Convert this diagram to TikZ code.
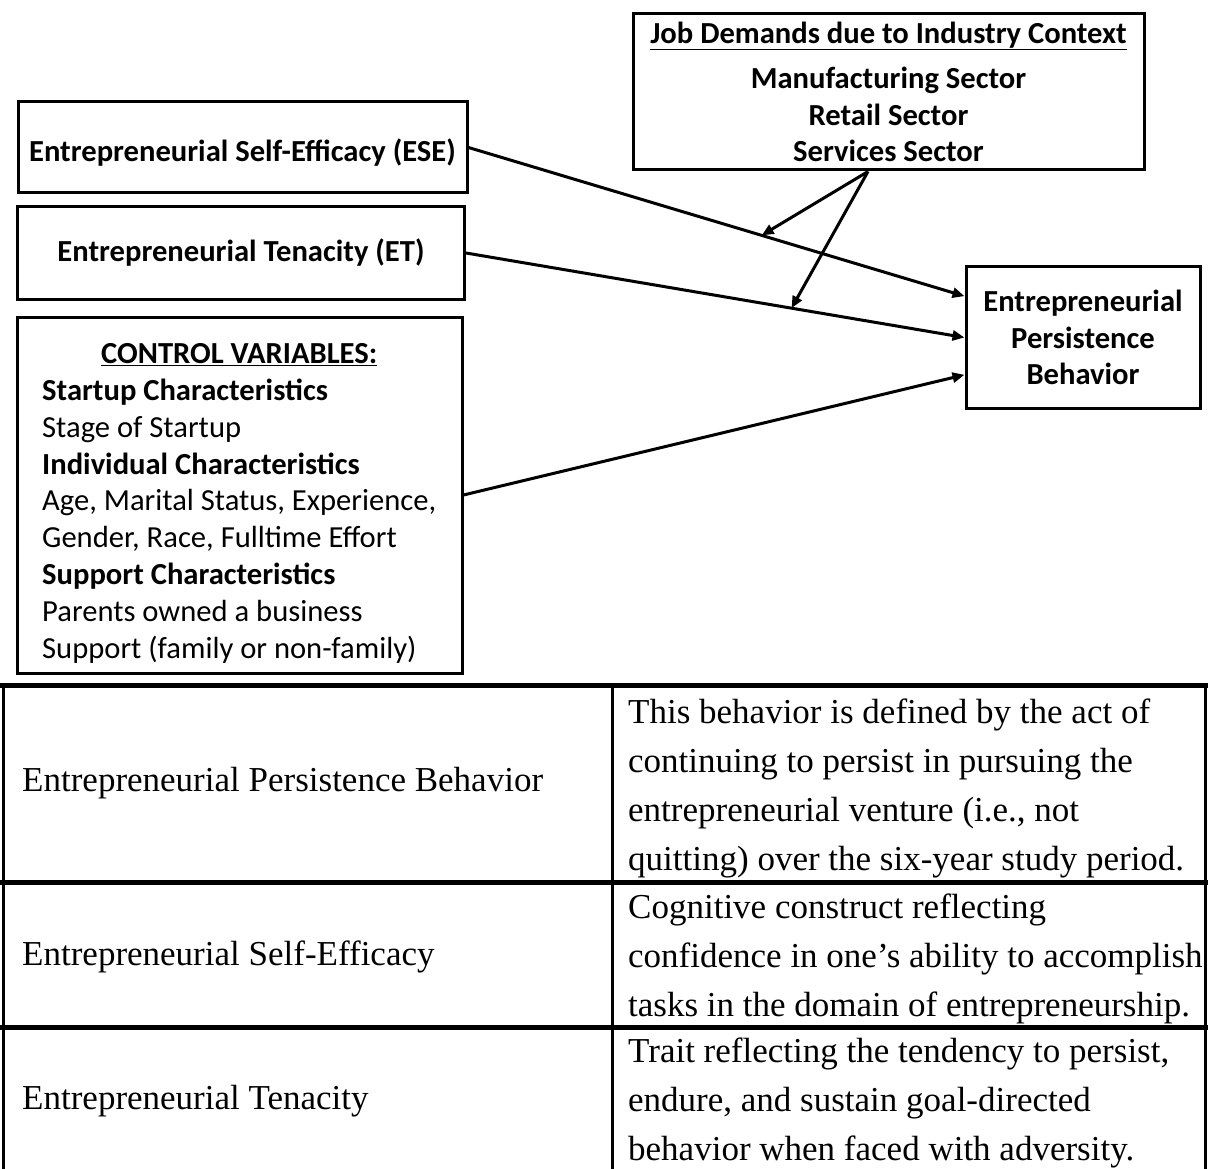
\documentclass[tikz,border=0pt]{standalone}
\usepackage{fontspec}
\setmainfont{Carlito}
\newfontfamily\tnr{Liberation Serif}
\usetikzlibrary{arrows.meta,calc}
\begin{document}
\begin{tikzpicture}[x=1pt,y=-1pt,
  box/.style={draw,line width=3pt,rectangle,inner sep=0pt,align=center,
    font=\fontsize{30.6}{36.8}\selectfont\bfseries},
  conn/.style={line width=3pt,-{Triangle[length=12pt,width=10pt]}},
  tline/.style={line width=5pt},
  vline/.style={line width=3pt},
  ttext/.style={font=\tnr\fontsize{35}{49}\selectfont,anchor=west,align=left,inner sep=0pt},
  ctext/.style={font=\fontsize{30.6}{36.8}\selectfont,anchor=west,inner sep=0pt}
]
\useasboundingbox (0,0) rectangle (1208,1169);
\fill[white] (0,0) rectangle (1208,1169);

% boxes
\node[box,minimum width=511pt,minimum height=156pt] (job) at (888.5,92)
  {\underline{Job Demands due to Industry Context}\\[8pt]Manufacturing Sector\\Retail Sector\\Services Sector};
\node[box,minimum width=449pt,minimum height=91pt,text height=35pt,text depth=7pt] (ese) at (242.5,147.5)
  {Entrepreneurial Self-Efficacy (ESE)};
\node[box,minimum width=447pt,minimum height=92pt] (et) at (241,253)
  {Entrepreneurial Tenacity (ET)};
\node[box,minimum width=445pt,minimum height=356pt] (ctrl) at (239.5,495) {};
\node[ctext] (ctrltext) at (42,503.5)
  {\begin{tabular}{@{}l@{}}
   \multicolumn{1}{@{}c@{}}{\textbf{\underline{CONTROL VARIABLES:}}}\\
   \textbf{Startup Characteristics}\\
   Stage of Startup\\
   \textbf{Individual Characteristics}\\
   Age, Marital Status, Experience,\\
   Gender, Race, Fulltime Effort\\
   \textbf{Support Characteristics}\\
   Parents owned a business\\
   Support (family or non-family)
   \end{tabular}};
\node[box,minimum width=234pt,minimum height=141pt] (pb) at (1083,337.5)
  {Entrepreneurial\\Persistence\\Behavior};

% connectors
\coordinate (pbA) at ($(pb.north west)!0.213!(pb.south west)$);
\coordinate (pbC) at ($(pb.north west)!0.759!(pb.south west)$);
\draw[conn] (ese.east) -- (pbA);
\draw[conn] (et.east) -- (pb.west);
\draw[conn] (ctrl.east) -- (pbC);
\path (ese.east) -- (pbA) coordinate[pos=0.591] (m1);
\path (et.east) -- (pb.west) coordinate[pos=0.653] (m2);
\coordinate (js) at ($(job.south)+(-20.5,0)$);
\draw[conn] (js) -- (m1);
\draw[conn] (js) -- (m2);

% table
\draw[tline] (0,685) -- (1208,685);
\draw[tline] (0,882) -- (1208,882);
\draw[tline] (0,1027) -- (1208,1027);
\draw[vline] (3,685) -- (3,1169);
\draw[vline] (612,685) -- (612,1169);
\draw[vline] (1205,685) -- (1205,1169);

\node[ttext] (r1a) at (22,783) {Entrepreneurial Persistence Behavior};
\node[ttext] (r1b) at (628,788) {This behavior is defined by the act of\\continuing to persist in pursuing the\\entrepreneurial venture (i.e., not\\quitting) over the six-year study period.};
\node[ttext] (r2a) at (22,957) {Entrepreneurial Self-Efficacy};
\node[ttext] (r2b) at (628,959) {Cognitive construct reflecting\\confidence in one’s ability to accomplish\\tasks in the domain of entrepreneurship.};
\node[ttext] (r3a) at (22,1101) {Entrepreneurial Tenacity};
\node[ttext] (r3b) at (628,1103) {Trait reflecting the tendency to persist,\\endure, and sustain goal-directed\\behavior when faced with adversity.};
\end{tikzpicture}
\end{document}
